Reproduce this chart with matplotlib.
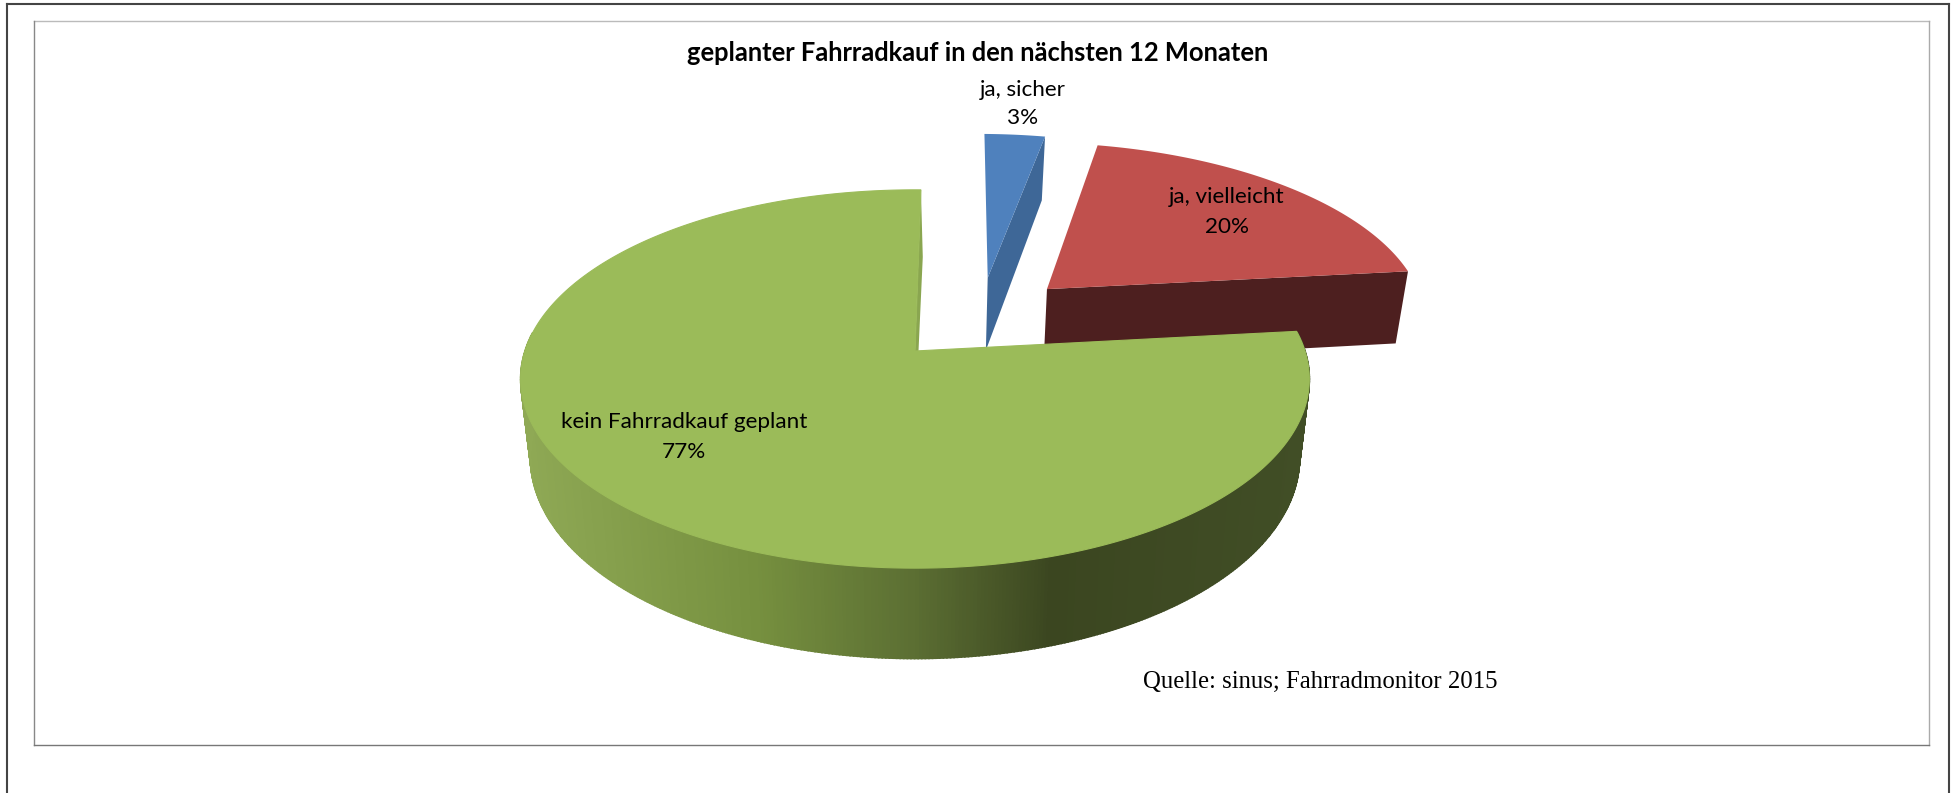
import numpy as np
import matplotlib
matplotlib.use('Agg')
import matplotlib.pyplot as plt
from matplotlib.colors import LinearSegmentedColormap

# Daten
titel = 'geplanter Fahrradkauf in den nächsten 12 Monaten'
kategorien = ['ja, sicher', 'ja, vielleicht', 'kein Fahrradkauf geplant']
anteile = [3, 20, 77]
quelle = 'Quelle: sinus; Fahrradmonitor 2015'

# Layout in Pixeln
B, H = 1957, 793
cx, cy = 915, 351      # Mitte der Torte
ra, rb = 390, 185      # Halbachsen
k = 0.148              # Perspektive
tiefe = 77             # Dicke der Torte
schrumpf = 0.975
start = 1.0            # Startwinkel im Uhrzeigersinn von oben

versatz = [(0.198, 0.42), (0.356, 0.352), (0.0, 0.0)]
farbe_oben = ['#4f81bd', '#c0504d', '#9bbb59']
farbe_seite = ['#3e6797', '#4d1f1f', '#8aa650']
labels_pos = [(1023, 90, 118), (1227, 197, 227), (684, 422, 452)]


def oben(u, v):
    w = 1 + k * np.asarray(v, dtype=float)
    return cx + ra * np.asarray(u) / w, cy - rb * np.asarray(v) / w


def unten(u, v):
    x, y = oben(u, v)
    w = 1 + k * np.asarray(v, dtype=float)
    return cx + (x - cx) * schrumpf, y + tiefe / w


def rand(t1, t2, dx, dy, n=200):
    t = np.radians(np.linspace(t1, t2, n))
    return np.sin(t) + dx, np.cos(t) + dy


fig = plt.figure(figsize=(B / 100, H / 100), dpi=100)
ax = fig.add_axes([0, 0, 1, 1])
ax.set_xlim(0, B)
ax.set_ylim(H, 0)
ax.axis('off')

# Rahmen
ax.plot([6.5, 6.5], [H, 4], color='#444444', lw=1.5)
ax.plot([6.5, 1949], [4, 4], color='#444444', lw=1.5)
ax.plot([1949, 1949], [4, H], color='#444444', lw=1.5)
ax.plot([34, 1929], [21, 21], color='#bbbbbb', lw=1.0)
ax.plot([34, 34], [21, 745], color='#888888', lw=1.0)
ax.plot([1929, 1929], [21, 745], color='#aaaaaa', lw=1.0)
ax.plot([34, 1929], [745, 745], color='#777777', lw=1.0)

# Winkel aus den Anteilen
grenzen = start + np.cumsum([0] + anteile) * 3.6

# Stück 2: ja, vielleicht
t1, t2 = grenzen[1], grenzen[2]
dx, dy = versatz[1]
u, v = rand(t1, t2, dx, dy)
xa, ya = oben(dx, dy)
xr, yr = oben(u[-1], v[-1])
xa2, ya2 = unten(dx, dy)
xr2, yr2 = unten(u[-1], v[-1])
ax.fill([xa, xr, xr2, xa2], [ya, yr, yr2, ya2], color=farbe_seite[1], lw=0)
x, y = oben(u, v)
ax.fill(np.r_[xa, x], np.r_[ya, y], color=farbe_oben[1], lw=0)

# Stück 1: ja, sicher
t1, t2 = grenzen[0], grenzen[1]
dx, dy = versatz[0]
u, v = rand(t1, t2, dx, dy)
xa, ya = oben(dx, dy)
xr, yr = oben(u[-1], v[-1])
xa2, ya2 = unten(dx, dy)
xr2, yr2 = unten(u[-1], v[-1])
ax.fill([xa, xr, xr2, xa2], [ya, yr, yr2, ya2], color=farbe_seite[0], lw=0)
x, y = oben(u, v)
ax.fill(np.r_[xa, x], np.r_[ya, y], color=farbe_oben[0], lw=0)

# Stück 3: kein Fahrradkauf, erst Schnittfläche und Mantel
t1, t2 = grenzen[2], grenzen[3]
u, v = rand(t1, t2, 0, 0, n=600)
xa, ya = oben(0, 0)
xa2, ya2 = unten(0, 0)
xr, yr = oben(u[-1], v[-1])
xr2, yr2 = unten(u[-1], v[-1])
ax.fill([xa, xr, xr2 + 2, xa2], [ya, yr, yr2, ya2], color=farbe_seite[2], lw=0)

verlauf = LinearSegmentedColormap.from_list('mantel', [
    (0.00, '#8fa955'), (0.30, '#76903f'), (0.50, '#5c6f33'),
    (0.68, '#3b4620'), (1.00, '#414e26')])
xo, yo = oben(u, v)
xu, yu = unten(u, v)
for i in range(len(u) - 1):
    # hinterer Teil des Mantels ist verdeckt
    if v[i] > 0.1:
        continue
    f = np.clip((xo[i] - 518) / (1307 - 518), 0, 1)
    ax.fill([xo[i], xo[i + 1], xu[i + 1], xu[i]],
            [yo[i], yo[i + 1], yu[i + 1], yu[i]],
            color=verlauf(f), lw=1.2)

ax.fill(np.r_[xa, xo], np.r_[ya, yo], color=farbe_oben[2], lw=0.8)

# Texte
for name, wert, (px, py1, py2) in zip(kategorien, anteile, labels_pos):
    ax.text(px, py1, name, ha='center', va='center', fontsize=16.2,
            family='Lato', color='black')
    ax.text(px, py2, f'{wert}%', ha='center', va='center', fontsize=16.2,
            family='Lato', color='black')
ax.text(978, 53, titel, ha='center', va='center', fontsize=18.4,
        family='Lato', fontweight='bold', color='black')
ax.text(1320, 682, quelle, ha='center', va='center', fontsize=17.8,
        family='Liberation Serif', color='black')

fig.savefig('out.png', dpi=100)
